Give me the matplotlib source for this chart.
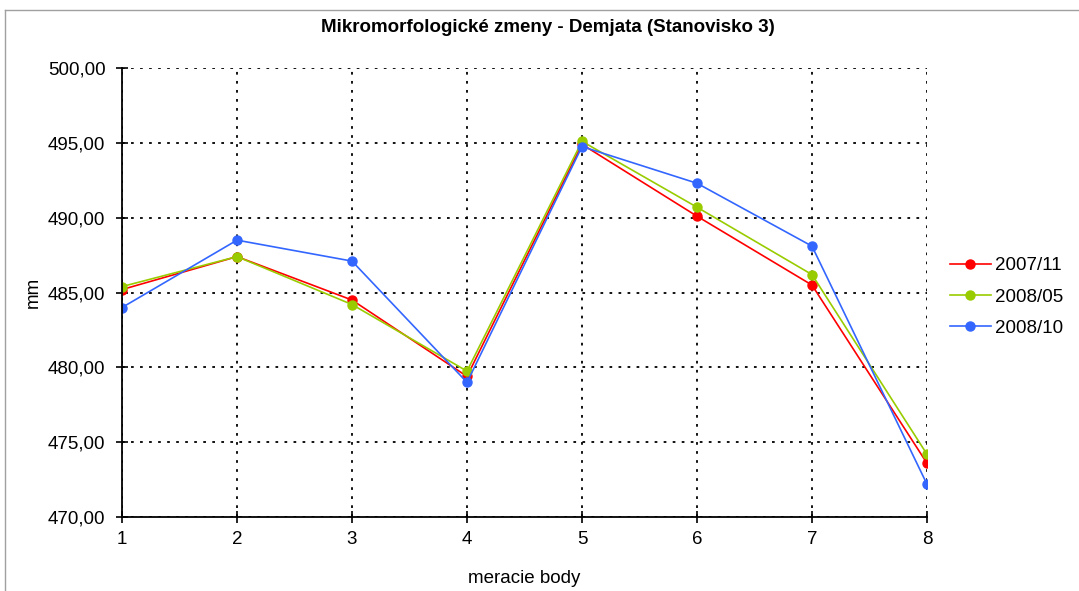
import numpy as np
import matplotlib.pyplot as plt
from matplotlib.ticker import FuncFormatter

plt.rcParams['font.family'] = ['Liberation Sans', 'DejaVu Sans']

body = [1, 2, 3, 4, 5, 6, 7, 8]
s2007_11 = [485.2, 487.4, 484.5, 479.4, 494.9, 490.1, 485.5, 473.6]
s2008_05 = [485.4, 487.4, 484.2, 479.75, 495.1, 490.7, 486.2, 474.2]
s2008_10 = [484.0, 488.5, 487.1, 479.0, 494.75, 492.3, 488.1, 472.2]
labels = ['2007/11', '2008/05', '2008/10']
colors = ['#ff0000', '#99cc00', '#3366ff']

fs = 13.5

fig = plt.figure(figsize=(10.79, 5.91), dpi=100)
ax = fig.add_axes([0.1131, 0.125, 0.746, 0.760])

# chart border (light gray, top and left visible)
fig.add_artist(plt.Line2D([5/1079, 1], [1-10/591, 1-10/591], color='#a0a0a0', lw=1))
fig.add_artist(plt.Line2D([5/1079, 5/1079], [0, 1-10/591], color='#a0a0a0', lw=1))

for ys, lab, c in zip([s2007_11, s2008_05, s2008_10], labels, colors):
    ax.plot(body, ys, color=c, lw=1.2, marker='o', markersize=6.5, label=lab)

ax.set_xlim(1, 8)
ax.set_ylim(470, 500)
ax.set_xticks(body)
ax.set_yticks(np.arange(470, 501, 5))
ax.yaxis.set_major_formatter(FuncFormatter(lambda v, p: f'{v:.2f}'.replace('.', ',')))
ax.grid(True, color='black', linestyle=(0, (1.5, 3.5)), lw=1.3)
ax.set_axisbelow(True)
for s in ['top', 'right']:
    ax.spines[s].set_visible(False)
ax.spines['left'].set_linewidth(1.3)
ax.spines['bottom'].set_linewidth(1.3)
ax.tick_params(axis='both', labelsize=fs, direction='inout', length=8, width=1.2)
ax.tick_params(axis='y', pad=8)
ax.tick_params(axis='x', pad=6)

ax.set_xlabel('meracie body', fontsize=fs, labelpad=16)
ax.set_ylabel('mm', fontsize=fs, labelpad=4)
fig.text(548/1079, 1-28/591, 'Mikromorfologické zmeny - Demjata (Stanovisko 3)',
         ha='center', va='center', fontsize=fs, fontweight='bold')

ax.legend(loc='center left', bbox_to_anchor=(1.028, 0.49), frameon=False,
          fontsize=fs, handlelength=2.2, handletextpad=0.25, labelspacing=0.75,
          borderaxespad=0, borderpad=0)

fig.savefig('out.png', dpi=100)
